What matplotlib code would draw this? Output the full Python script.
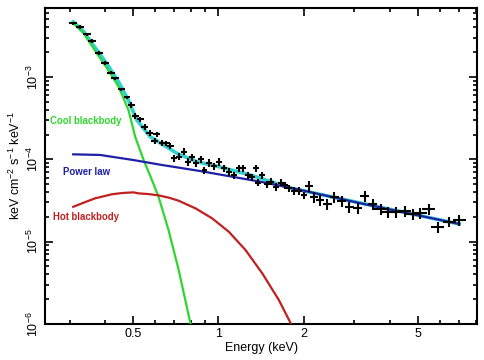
import matplotlib

matplotlib.use("Agg")
import matplotlib.pyplot as plt

plt.rcParams["font.family"] = ["Liberation Sans", "DejaVu Sans"]
plt.rcParams["mathtext.default"] = "regular"

# ---- observed spectrum (energy keV, flux keV cm^-2 s^-1 keV^-1) ----
energy = [0.309, 0.327, 0.345, 0.361, 0.380, 0.401, 0.419, 0.434, 0.456, 0.477,
          0.494, 0.510, 0.531, 0.550, 0.573, 0.597, 0.608, 0.634, 0.656, 0.678,
          0.696, 0.725, 0.759, 0.780, 0.808, 0.837, 0.869, 0.893, 0.924, 0.963,
          1.008, 1.044, 1.087, 1.132, 1.179, 1.222, 1.268, 1.314, 1.353, 1.375,
          1.425, 1.476, 1.524, 1.587, 1.653, 1.708, 1.768, 1.841, 1.917, 1.997,
          2.080, 2.166, 2.274, 2.414, 2.547, 2.704, 2.876, 3.078, 3.266, 3.477,
          3.720, 3.946, 4.201, 4.518, 4.809, 5.114, 5.476, 5.889, 6.471, 7.017]
flux = [4.49e-3, 4.08e-3, 3.30e-3, 2.74e-3, 1.97e-3, 1.49e-3, 1.13e-3, 9.64e-4, 7.09e-4, 5.67e-4,
        4.57e-4, 3.36e-4, 3.06e-4, 2.49e-4, 2.10e-4, 1.68e-4, 2.01e-4, 1.59e-4, 1.56e-4, 1.46e-4,
        1.03e-4, 1.08e-4, 1.24e-4, 9.35e-5, 1.06e-4, 8.94e-5, 1.00e-4, 7.41e-5, 9.09e-5, 8.29e-5,
        9.35e-5, 7.78e-5, 7.07e-5, 6.45e-5, 7.78e-5, 7.78e-5, 6.45e-5, 6.04e-5, 7.78e-5, 5.20e-5,
        6.45e-5, 5.01e-5, 5.34e-5, 4.65e-5, 5.20e-5, 4.87e-5, 4.44e-5, 4.15e-5, 4.15e-5, 3.68e-5,
        4.74e-5, 3.51e-5, 3.20e-5, 2.86e-5, 3.51e-5, 3.14e-5, 2.61e-5, 2.54e-5, 3.58e-5, 2.86e-5,
        2.47e-5, 2.31e-5, 2.31e-5, 2.37e-5, 2.16e-5, 2.21e-5, 2.47e-5, 1.52e-5, 1.75e-5, 1.83e-5]
energy_err = [0.010, 0.010, 0.011, 0.012, 0.012, 0.013, 0.013, 0.014, 0.013, 0.013,
              0.014, 0.014, 0.015, 0.015, 0.016, 0.017, 0.017, 0.018, 0.018, 0.019,
              0.017, 0.017, 0.018, 0.019, 0.019, 0.020, 0.021, 0.021, 0.022, 0.023,
              0.024, 0.025, 0.026, 0.027, 0.028, 0.029, 0.030, 0.032, 0.032, 0.033,
              0.034, 0.035, 0.037, 0.038, 0.040, 0.041, 0.042, 0.044, 0.046, 0.048,
              0.075, 0.078, 0.082, 0.087, 0.092, 0.097, 0.104, 0.111, 0.118, 0.125,
              0.20, 0.21, 0.22, 0.24, 0.25, 0.27, 0.29, 0.31, 0.34, 0.37]
flux_err = [2.2e-4, 2.0e-4, 1.6e-4, 1.4e-4, 1.0e-4, 7.5e-5, 5.6e-5, 4.8e-5, 3.5e-5, 2.8e-5,
            3.7e-5, 2.7e-5, 2.4e-5, 2.0e-5, 1.7e-5, 1.3e-5, 1.6e-5, 1.3e-5, 1.2e-5, 1.2e-5,
            1.0e-5, 1.1e-5, 1.2e-5, 9.4e-6, 1.1e-5, 8.9e-6, 1.0e-5, 7.4e-6, 9.1e-6, 8.3e-6,
            9.4e-6, 7.8e-6, 7.1e-6, 6.5e-6, 7.8e-6, 7.8e-6, 6.5e-6, 6.0e-6, 7.8e-6, 5.2e-6,
            6.5e-6, 5.0e-6, 5.3e-6, 4.7e-6, 5.2e-6, 4.9e-6, 4.4e-6, 4.2e-6, 4.2e-6, 3.7e-6,
            7.1e-6, 5.3e-6, 4.8e-6, 4.3e-6, 5.3e-6, 4.7e-6, 3.9e-6, 3.8e-6, 5.4e-6, 4.3e-6,
            3.7e-6, 3.5e-6, 3.5e-6, 3.6e-6, 3.2e-6, 3.3e-6, 3.7e-6, 2.3e-6, 2.6e-6, 2.7e-6]

# ---- model curves ----
total_e = [0.309, 0.335, 0.374, 0.406, 0.446, 0.482, 0.517, 0.576, 0.642, 0.715,
           0.841, 1.016, 1.296, 1.793, 3.16, 7.0]
total_f = [4.66e-3, 3.62e-3, 2.13e-3, 1.44e-3, 8.7e-4, 5.26e-4, 3.0e-4, 1.88e-4, 1.49e-4, 1.18e-4,
           9.35e-5, 8.05e-5, 6.44e-5, 4.48e-5, 2.94e-5, 1.64e-5]

cool_e = [0.309, 0.336, 0.374, 0.406, 0.446, 0.483, 0.510, 0.546, 0.584, 0.616,
          0.668, 0.725, 0.797]
cool_f = [4.49e-3, 3.40e-3, 1.94e-3, 1.28e-3, 7.62e-4, 3.97e-4, 1.88e-4, 9.8e-5, 5.6e-5, 3.51e-5,
          1.38e-5, 4.52e-6, 1.02e-6]

pl_e = [0.309, 0.384, 0.503, 0.625, 0.864, 1.406, 1.944, 3.16, 7.0]
pl_f = [1.15e-4, 1.13e-4, 9.8e-5, 8.6e-5, 7.2e-5, 5.34e-5, 4.24e-5, 2.92e-5, 1.64e-5]

hot_e = [0.309, 0.340, 0.369, 0.422, 0.460, 0.503, 0.524, 0.570, 0.616, 0.670,
         0.725, 0.830, 0.950, 1.087, 1.245, 1.425, 1.630, 1.793]
hot_f = [2.65e-5, 3.02e-5, 3.36e-5, 3.76e-5, 3.90e-5, 3.97e-5, 3.86e-5, 3.78e-5, 3.65e-5, 3.42e-5,
         3.14e-5, 2.54e-5, 1.92e-5, 1.32e-5, 7.9e-6, 4.12e-6, 1.95e-6, 1.02e-6]

GREEN = "#2ed62e"
BLUE = "#1f1fa8"
RED = "#c02020"
CYAN = "#30d0d0"

fig = plt.figure(figsize=(4.84, 3.60), dpi=100)
ax = fig.add_axes([0.093, 0.100, 0.893, 0.878])

ax.plot(total_e, total_f, color=CYAN, lw=2.6, zorder=2)
ax.plot(cool_e, cool_f, color=GREEN, lw=1.6, zorder=3)
ax.plot(pl_e, pl_f, color=BLUE, lw=1.6, zorder=3)
ax.plot(hot_e, hot_f, color=RED, lw=1.6, zorder=3)
ax.errorbar(energy, flux, xerr=energy_err, yerr=flux_err, fmt="none",
            ecolor="black", elinewidth=1.5, capsize=0, zorder=4)

ax.set_xscale("log")
ax.set_yscale("log")
ax.set_xlim(0.246, 8.1)
ax.set_ylim(1e-6, 6.9e-3)

ax.set_xticks([0.5, 1, 2, 5])
ax.set_xticklabels(["0.5", "1", "2", "5"])
ax.set_xticks([0.3, 0.4, 0.6, 0.7, 0.8, 0.9, 3, 4, 6, 7, 8], minor=True)
ax.set_xticklabels([], minor=True)
ax.set_yticks([1e-6, 1e-5, 1e-4, 1e-3])
ax.set_yticklabels(["10$^{-6}$", "10$^{-5}$", "10$^{-4}$", "10$^{-3}$"],
                   rotation=90, va="center")

ax.tick_params(which="both", direction="in", top=True, right=True,
               width=1.2, labelsize=9, pad=3)
ax.tick_params(which="major", length=6)
ax.tick_params(which="minor", length=3)
for s in ax.spines.values():
    s.set_linewidth(1.5)

ax.set_xlabel("Energy (keV)", fontsize=9, labelpad=1)
ax.set_ylabel("keV cm$^{-2}$ s$^{-1}$ keV$^{-1}$", fontsize=9, labelpad=2)

ax.text(0.012, 0.642, "Cool blackbody", transform=ax.transAxes, color=GREEN,
        fontsize=6.9, fontweight="bold", va="center")
ax.text(0.042, 0.481, "Power law", transform=ax.transAxes, color=BLUE,
        fontsize=6.9, fontweight="bold", va="center")
ax.text(0.0185, 0.337, "Hot blackbody", transform=ax.transAxes, color=RED,
        fontsize=6.9, fontweight="bold", va="center")

fig.savefig("out.png", dpi=100)
